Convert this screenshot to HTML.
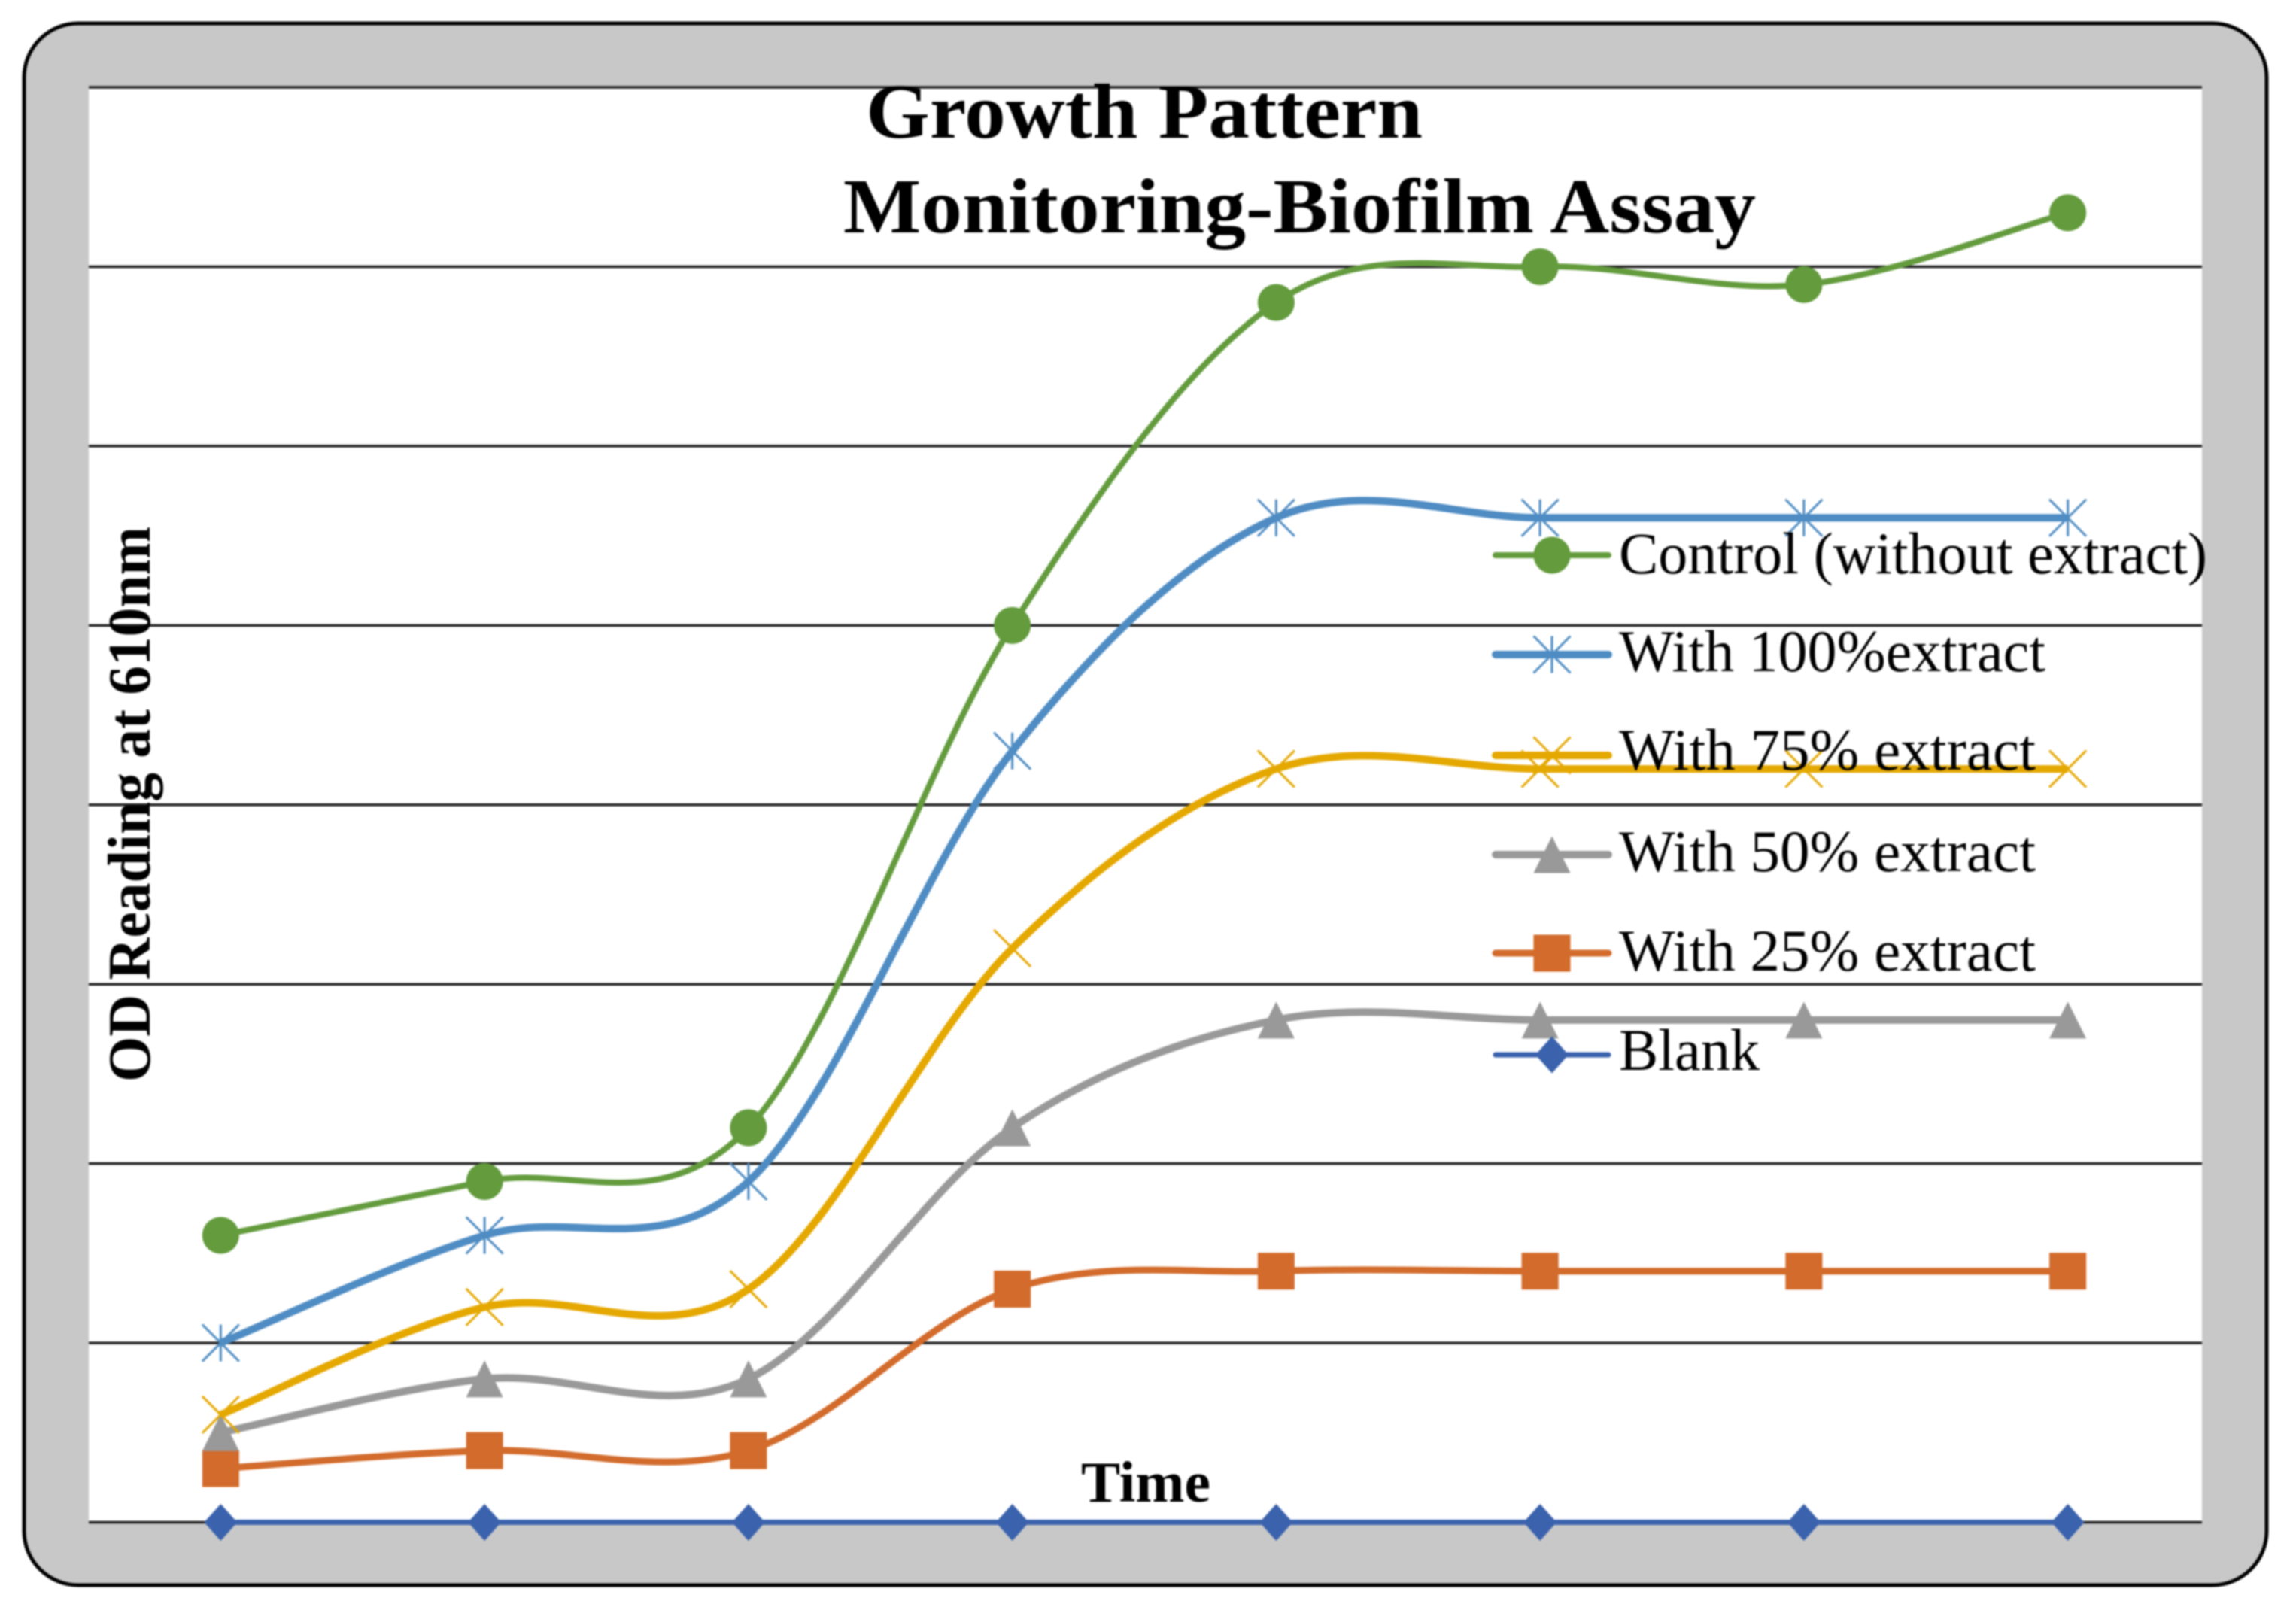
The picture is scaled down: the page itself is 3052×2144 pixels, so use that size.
<!DOCTYPE html>
<html lang="en">
<head>
<meta charset="utf-8">
<title>Growth Pattern Monitoring-Biofilm Assay</title>
<style>
html,body{margin:0;padding:0;background:#fff;width:3052px;height:2144px;overflow:hidden}
svg{display:block;filter:blur(1px)}
text{font-family:"Liberation Serif",serif;fill:#000}
.b{font-weight:700}
</style>
</head>
<body>
<svg id="chart" xmlns="http://www.w3.org/2000/svg" width="3052" height="2144" viewBox="0 0 3052 2144">
  <rect x="32" y="31" width="2981" height="2076" rx="72" ry="72" fill="#c8c8c8" stroke="#000" stroke-width="5"/>
  <rect x="118" y="117" width="2809" height="1907" fill="#fff"/>
  <g id="grid"></g>
  <g id="series"></g>
  <text class="b" x="1151" y="183" font-size="104" textLength="740" lengthAdjust="spacingAndGlyphs">Growth Pattern</text>
  <text class="b" x="1121" y="309" font-size="104" textLength="1213" lengthAdjust="spacingAndGlyphs">Monitoring-Biofilm Assay</text>
  <text class="b" transform="translate(199,1438) rotate(-90)" font-size="80" textLength="738" lengthAdjust="spacingAndGlyphs">OD Reading at 610nm</text>
  <text class="b" x="1437" y="1996" font-size="77" textLength="172" lengthAdjust="spacingAndGlyphs">Time</text>
  <g id="legend">
    <text x="2152" y="762" font-size="78" textLength="782" lengthAdjust="spacingAndGlyphs">Control (without extract)</text>
    <text x="2152" y="892" font-size="78" textLength="567" lengthAdjust="spacingAndGlyphs">With  100%extract</text>
    <text x="2152" y="1023" font-size="78" textLength="554" lengthAdjust="spacingAndGlyphs">With  75% extract</text>
    <text x="2152" y="1158" font-size="78" textLength="554" lengthAdjust="spacingAndGlyphs">With  50% extract</text>
    <text x="2152" y="1290" font-size="78" textLength="554" lengthAdjust="spacingAndGlyphs">With  25% extract</text>
    <text x="2152" y="1422" font-size="78" textLength="187" lengthAdjust="spacingAndGlyphs">Blank</text>
  </g>
</svg>
<script>
const categories = ['T1', 'T2', 'T3', 'T4', 'T5', 'T6', 'T7', 'T8'];
const yTicks = [0, 0.1, 0.2, 0.3, 0.4, 0.5, 0.6, 0.7, 0.8];
const blankValues = [0, 0, 0, 0, 0, 0, 0, 0];
const extract25Values = [0.03, 0.04, 0.04, 0.13, 0.14, 0.14, 0.14, 0.14];
const extract50Values = [0.05, 0.08, 0.08, 0.22, 0.28, 0.28, 0.28, 0.28];
const extract75Values = [0.06, 0.12, 0.13, 0.32, 0.42, 0.42, 0.42, 0.42];
const extract100Values = [0.10, 0.16, 0.19, 0.43, 0.56, 0.56, 0.56, 0.56];
const controlValues = [0.16, 0.19, 0.22, 0.50, 0.68, 0.70, 0.69, 0.73];

const NS = 'http://www.w3.org/2000/svg';
const plotLeft = 118, plotRight = 2927, plotTop = 116, plotBottom = 2023.5, yMax = 0.8;

function xScale(i) {
  const span = 2806;
  const band = span / categories.length;
  return plotLeft + band * (i + 0.5);
}
function yScale(v) {
  return plotBottom - (v / yMax) * (plotBottom - plotTop);
}
function node(tag, attrs, parent) {
  const el = document.createElementNS(NS, tag);
  for (const k in attrs) el.setAttribute(k, attrs[k]);
  parent.appendChild(el);
  return el;
}
function smoothPath(pts) {
  let d = 'M' + pts[0][0] + ' ' + pts[0][1];
  for (let i = 0; i < pts.length - 1; i++) {
    const p0 = pts[Math.max(i - 1, 0)], p1 = pts[i], p2 = pts[i + 1], p3 = pts[Math.min(i + 2, pts.length - 1)];
    const c1x = p1[0] + (p2[0] - p0[0]) / 6, c1y = p1[1] + (p2[1] - p0[1]) / 6;
    const c2x = p2[0] - (p3[0] - p1[0]) / 6, c2y = p2[1] - (p3[1] - p1[1]) / 6;
    d += ' C' + c1x + ' ' + c1y + ' ' + c2x + ' ' + c2y + ' ' + p2[0] + ' ' + p2[1];
  }
  return d;
}
function drawMarker(kind, cx, cy, color, parent) {
  const r = 24.5;
  if (kind === 'circle') {
    return node('circle', {cx: cx, cy: cy, r: r, fill: color}, parent);
  }
  if (kind === 'square') {
    return node('rect', {x: cx - r, y: cy - r, width: 2 * r, height: 2 * r, fill: color}, parent);
  }
  if (kind === 'triangle') {
    return node('polygon', {points: (cx) + ',' + (cy - r) + ' ' + (cx + r) + ',' + (cy + r) + ' ' + (cx - r) + ',' + (cy + r), fill: color}, parent);
  }
  if (kind === 'diamond') {
    return node('polygon', {points: cx + ',' + (cy - r) + ' ' + (cx + 22) + ',' + cy + ' ' + cx + ',' + (cy + r) + ' ' + (cx - 22) + ',' + cy, fill: color}, parent);
  }
  let d = 'M' + (cx - r) + ' ' + (cy - r) + ' L' + (cx + r) + ' ' + (cy + r) + ' M' + (cx + r) + ' ' + (cy - r) + ' L' + (cx - r) + ' ' + (cy + r);
  if (kind === 'star') d += ' M' + cx + ' ' + (cy - r) + ' L' + cx + ' ' + (cy + r);
  return node('path', {d: d, fill: 'none', stroke: color, 'stroke-width': 3}, parent);
}

const gridGroup = document.getElementById('grid');
yTicks.forEach(function (t) {
  const line = node('line', {x1: plotLeft, x2: plotRight, y1: yScale(t), y2: yScale(t), stroke: '#222', 'stroke-width': 3.5}, gridGroup);
  
  
});

const seriesList = [
  {key: 'blank', values: blankValues, color: '#3a62ad', marker: 'diamond', width: 7, legendY: 1402},
  {key: 'extract-25', values: extract25Values, color: '#d26b2b', marker: 'square', width: 9, legendY: 1267},
  {key: 'extract-50', values: extract50Values, color: '#999999', marker: 'triangle', width: 10, legendY: 1136},
  {key: 'extract-75', values: extract75Values, color: '#e5a800', marker: 'cross', width: 10, legendY: 1004},
  {key: 'extract-100', values: extract100Values, color: '#4e8cc3', marker: 'star', width: 10, legendY: 870},
  {key: 'control', values: controlValues, color: '#639b3d', marker: 'circle', width: 8, legendY: 738}
];

const seriesGroup = document.getElementById('series');
const legendGroup = document.getElementById('legend');
seriesList.forEach(function (s) {
  const pts = s.values.map(function (v, i) { return [xScale(i), yScale(v)]; });
  const path = node('path', {d: smoothPath(pts), fill: 'none', stroke: s.color, 'stroke-width': s.width}, seriesGroup);
  
  
  pts.forEach(function (p) {
    const m = drawMarker(s.marker, p[0], p[1], s.color, seriesGroup);
    
    
  });
  const key = node('line', {x1: 1988, x2: 2138, y1: s.legendY, y2: s.legendY, stroke: s.color, 'stroke-width': s.width, 'stroke-linecap': 'round'}, legendGroup);
  
  
  const km = drawMarker(s.marker, 2063, s.legendY, s.color, legendGroup);
  
  
});
</script>
</body>
</html>
